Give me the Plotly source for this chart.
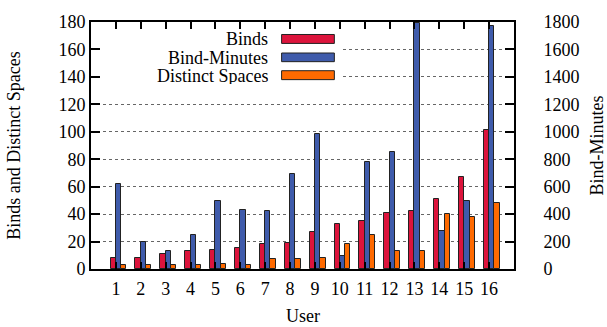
import plotly.graph_objects as go

users = list(range(1, 17))
user_labels = [str(u) for u in users]
binds = [8, 8, 11, 13, 14, 15, 18, 19, 27, 33, 35, 41, 42, 51, 67, 101]
bind_minutes = [620, 200, 130, 250, 497, 428, 420, 694, 984, 96, 783, 855, 1795, 276, 498, 1769]
distinct_spaces = [3, 3, 3, 3, 4, 3, 7, 7, 8, 18, 25, 13, 13, 40, 38, 48]
left_ticks = list(range(0, 181, 20))
right_ticks = list(range(0, 1801, 200))

series_names = ["Binds", "Bind-Minutes", "Distinct Spaces"]
colors = ["#DC143C", "#3F5BAB", "#FF6A00"]

FONT = "Liberation Serif, Times New Roman, serif"
W = 0.213

fig = go.Figure()
fig.add_trace(go.Bar(x=users, y=binds, name=series_names[0], yaxis="y",
                     width=W, offset=-W, marker=dict(color=colors[0], line=dict(color="#222", width=1))))
fig.add_trace(go.Bar(x=users, y=bind_minutes, name=series_names[1], yaxis="y2",
                     width=W, offset=0, marker=dict(color=colors[1], line=dict(color="#222", width=1))))
fig.add_trace(go.Bar(x=users, y=distinct_spaces, name=series_names[2], yaxis="y",
                     width=W, offset=W, marker=dict(color=colors[2], line=dict(color="#222", width=1))))

# custom gnuplot-style key (text right-aligned, sample box to the right)
shapes = [dict(type="rect", xref="x", yref="y", x0=0.4, x1=10.1, y0=132, y1=174,
               fillcolor="white", line=dict(width=0), layer="above")]
annotations = []
key_rows = [(164.4, 170.9), (151.1, 157.4), (138.0, 144.5)]
for (y0, y1), name, c in zip(key_rows, series_names, colors):
    shapes.append(dict(type="rect", xref="x", yref="y", x0=7.66, x1=9.78, y0=y0, y1=y1,
                       fillcolor=c, line=dict(color="#222", width=1), layer="above"))
    annotations.append(dict(xref="x", yref="y", x=7.15, y=(y0 + y1) / 2, text=name,
                            showarrow=False, xanchor="right", yanchor="middle",
                            height=17, valign="middle", borderpad=0,
                            font=dict(family=FONT, size=18, color="black")))

annotations += [
    dict(xref="paper", yref="paper", x=-0.184, y=0.5, text="Binds and Distinct Spaces",
         textangle=-90, showarrow=False, xanchor="center", yanchor="middle",
         font=dict(family=FONT, size=18, color="black")),
    dict(xref="paper", yref="paper", x=1.196, y=0.5, text="Bind-Minutes",
         textangle=-90, showarrow=False, xanchor="center", yanchor="middle",
         font=dict(family=FONT, size=18, color="black")),
    dict(xref="paper", yref="paper", x=0.5, y=-0.19, text="User",
         showarrow=False, xanchor="center", yanchor="middle",
         font=dict(family=FONT, size=18, color="black")),
]

fig.update_layout(
    width=607, height=327,
    margin=dict(l=91, r=93, t=12, b=58),
    paper_bgcolor="white", plot_bgcolor="white",
    barmode="overlay", bargap=0,
    showlegend=False,
    font=dict(family=FONT, size=18, color="black"),
    xaxis=dict(range=[0, 17], tickmode="array", tickvals=users, ticktext=user_labels,
               ticks="inside", ticklen=7, tickcolor="black", tickwidth=1.5,
               showline=True, linecolor="black", linewidth=2, mirror="ticks",
               showgrid=False, zeroline=False, ticklabelstandoff=2),
    yaxis=dict(range=[0, 180], tickmode="array", tickvals=left_ticks,
               ticks="inside", ticklen=9, tickcolor="black", tickwidth=1.5,
               showline=True, linecolor="black", linewidth=2,
               showgrid=True, gridcolor="#666", griddash="dot", gridwidth=1,
               zeroline=False),
    yaxis2=dict(range=[0, 1800], tickmode="array", tickvals=right_ticks,
                overlaying="y", side="right",
                ticks="inside", ticklen=9, tickcolor="black", tickwidth=1.5,
                showline=True, linecolor="black", linewidth=2,
                showgrid=False, zeroline=False, ticklabelstandoff=24),
    shapes=shapes, annotations=annotations,
)

fig.write_html("out.html")
